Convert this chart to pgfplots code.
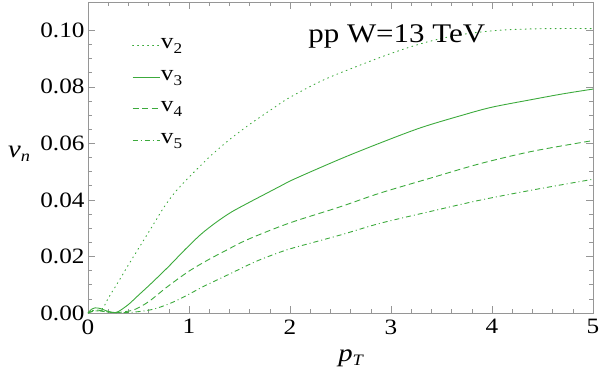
\documentclass[border=0pt]{standalone}
\usepackage{fontspec}
\setmainfont{Liberation Serif}
\usepackage{graphicx}
\usepackage{pgfplots}
\pgfplotsset{compat=1.18}
\definecolor{lc}{RGB}{60,170,60}
\definecolor{fr}{RGB}{150,150,150}
\newcommand\hs[1]{\scalebox{1.15}[1]{#1}}
\newcommand\vsub[1]{\hs{v\raisebox{-5bp}{\fontsize{15}{15}\selectfont #1}}}
\begin{document}
\begin{tikzpicture}
\begin{axis}[
  scale only axis, width=505bp, height=311bp,
  xmin=0, xmax=5, ymin=0, ymax=0.11,
  xtick={0,1,2,3,4,5}, ytick={0,0.02,0.04,0.06,0.08,0.1},
  minor x tick num=4, minor y tick num=3,
  tick align=inside,
  axis line style={fr, line width=0.6pt},
  every tick/.style={fr, line width=0.6pt},
  major tick length=7bp, minor tick length=4bp,
  /pgf/number format/assume math mode=true,
  xticklabel={\hs{\pgfmathprintnumber{\tick}}},
  yticklabel={\hs{\pgfmathprintnumber[fixed,fixed zerofill,precision=2]{\tick}}},
  ticklabel style={font=\fontsize{22}{22}\selectfont, text=black},
  xticklabel style={yshift=-3bp},
  xlabel={\hs{\textit{p}\raisebox{-4bp}{\fontsize{16}{16}\selectfont\itshape T}}},
  ylabel={\hs{\textit{v}\raisebox{-4bp}{\fontsize{16}{16}\selectfont\itshape n}}},
  label style={font=\fontsize{25}{25}\selectfont},
  xlabel style={at={(axis description cs:0.52,0)}, anchor=base, yshift=-48bp},
  ylabel style={at={(axis description cs:0,0.5)}, anchor=base, rotate=-90, xshift=-69bp},
  legend style={at={(axis description cs:0.081,0.905)}, anchor=north west, draw=none, fill=none,
    font=\fontsize{22}{22}\selectfont, row sep=7.5bp,
    nodes={inner sep=1bp, text height=14bp, text depth=8bp}},
  legend cell align=left,
  legend image code/.code={\draw[#1] (0bp,0bp) -- (27bp,0bp);},
  every axis plot/.append style={lc, line width=0.9pt, smooth, tension=0.5},
]
\addplot[dash pattern=on 1bp off 4bp, line cap=round] coordinates {
(0,0) (0.05,0.0009) (0.1,0.0007) (0.15,0.0018) (0.2,0.0052) (0.3,0.0110) (0.4,0.0170)
(0.5,0.0228) (0.63,0.0303) (0.75,0.0373) (0.85,0.0422) (0.95,0.0462) (1.06,0.0502)
(1.22,0.0558) (1.4,0.0613) (1.6,0.0667) (1.8,0.0716) (2.0,0.0763) (2.33,0.0824) (2.66,0.0872)
(3.0,0.0918) (3.32,0.0955) (3.65,0.0982) (4.0,0.0998) (4.31,0.1004) (4.64,0.1006) (5,0.1006)};
\addlegendentry{\vsub{2}}
\addplot[solid] coordinates {
(0,0) (0.03,0.0012) (0.07,0.0018) (0.12,0.0016) (0.18,0.0008) (0.25,0.0002) (0.3,0.0005)
(0.4,0.0030) (0.5,0.0063) (0.63,0.0106) (0.8,0.0165) (0.96,0.0224) (1.12,0.0279)
(1.27,0.0321) (1.42,0.0357) (1.6,0.0392) (1.75,0.0420) (1.9,0.0448) (2.05,0.0475)
(2.5,0.0545) (2.89,0.0601) (3.3,0.0656) (3.72,0.0701) (4.0,0.0728) (4.38,0.0754)
(4.7,0.0775) (5,0.0792)};
\addlegendentry{\vsub{3}}
\addplot[dash pattern=on 6bp off 3.5bp] coordinates {
(0,0) (0.05,0.0008) (0.1,0.0010) (0.18,0.0005) (0.25,0.0001) (0.35,0.0004) (0.46,0.0012)
(0.6,0.0040) (0.79,0.0094) (1.0,0.0148) (1.19,0.0188) (1.38,0.0224) (1.55,0.0255)
(1.8,0.0292) (2.05,0.0325) (2.5,0.0376) (2.89,0.0424) (3.4,0.0478) (3.88,0.0528)
(4.4,0.0572) (5,0.0610)};
\addlegendentry{\vsub{4}}
\addplot[dash pattern=on 5bp off 3bp on 1bp off 3bp] coordinates {
(0,0) (0.05,0.0006) (0.1,0.0008) (0.2,0.0003) (0.3,0.0001) (0.45,0.0003) (0.63,0.0012)
(0.8,0.0032) (0.96,0.0059) (1.15,0.0095) (1.35,0.0129) (1.5,0.0155) (1.68,0.0185)
(1.9,0.0215) (2.05,0.0232) (2.5,0.0276) (2.89,0.0317) (3.4,0.0360) (3.88,0.0399)
(4.4,0.0435) (5,0.0473)};
\addlegendentry{\vsub{5}}
\node[anchor=base west, font=\fontsize{27}{27}\selectfont, inner sep=0pt] at (axis cs:2.18,0.0955) {\hs{pp W=13 TeV}};
\end{axis}
\pgfresetboundingbox
\path (-88bp,-71bp) rectangle (512bp,313bp);
\end{tikzpicture}
\end{document}
